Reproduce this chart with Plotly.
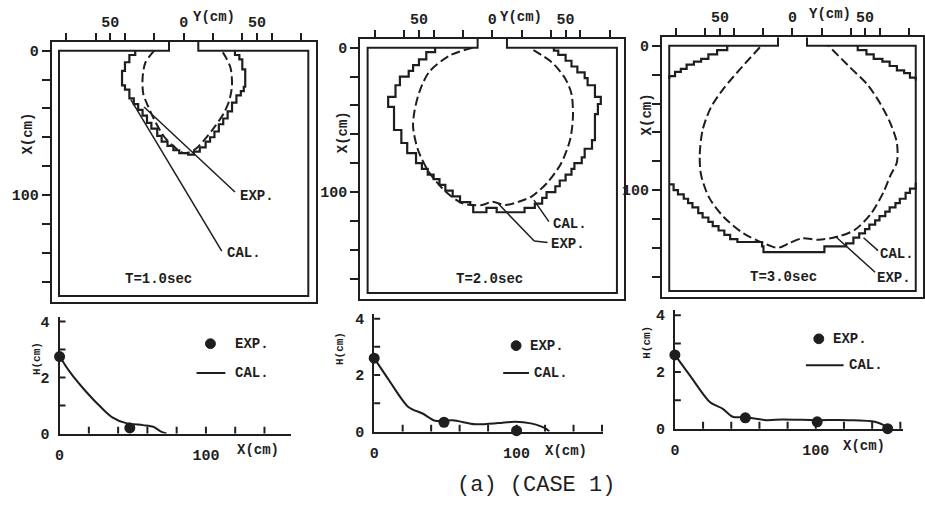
import plotly.graph_objects as go

W, H = 925, 506
INK = "#1e1e1e"
FONT = "Liberation Mono"

# ---------------- data (cm) ----------------
# Top panels: flood boundary. Y = lateral (cm), X = downstream (cm)
# CAL = staircase (grid) boundary, EXP = measured (dashed) boundary
P1_CAL_Y = [-33, -33, -37, -40, -42, -40, -37, -34, -31, -28, -25, -22, -18, -15, -11, -7, -3,
            3, 7, 11, 15, 18, 21, 24, 27, 30, 33, 36, 39, 41, 42, 40, 38, 35]
P1_CAL_X = [0, 3, 8, 14, 24, 27, 33, 37, 41, 45, 50, 54, 59, 63, 66, 69, 71,
            72, 70, 67, 63, 60, 56, 51, 47, 42, 36, 31, 28, 25, 13, 6, 3, 0]
P1_EXP_Y = [-20, -26, -28, -27.5, -24.5, -19, -13, -6, 0, 7, 14, 21, 27, 31, 33, 32, 29, 26]
P1_EXP_X = [0, 8, 19, 30, 38, 50, 60, 67, 71, 69, 62, 53, 44, 35, 24, 12, 5, 0]

P2_CAL_Y = [-39, -39, -45, -50, -54, -57, -63, -66, -71, -67, -62, -58, -52, -48, -44, -40, -36,
            -32, -27, -22, -15, -13, -4, 3, 22, 29, 34, 37, 43, 46, 50, 54, 56, 61, 63, 68, 70,
            72, 74, 70, 65, 63, 58, 54, 50, 45, 42]
P2_CAL_X = [0, 3, 8, 12, 16, 20, 26, 34, 41, 57, 66, 73, 80, 84, 88, 91, 95,
            99, 103, 107, 109, 114, 111, 114, 111, 108, 104, 100, 96, 92, 88, 84, 80, 76, 70, 64, 46,
            39, 34, 26, 21, 17, 13, 9, 5, 2, 0]
P2_EXP_Y = [-13.5, -29, -43, -49.5, -53, -54, -50.7, -43, -31.5, -20, -7, 0, 9, 18, 27, 38, 47,
            53, 55, 54, 49.5, 40.5, 27]
P2_EXP_X = [0, 5.4, 16.7, 30, 43.7, 55, 70.7, 86.5, 100, 108, 109, 106.7, 109, 106.7, 103, 93, 80,
            64, 48, 32, 21, 10, 1]

P3_CAL_TL_Y = [-45, -45, -52, -58, -63, -68, -73, -77, -81, -85]
P3_CAL_TL_X = [0, 3, 6, 9, 11, 13, 16, 18, 21, 23]
P3_CAL_TR_Y = [45, 45, 51, 56, 62, 67, 72, 77, 81, 85]
P3_CAL_TR_X = [0, 3, 6, 9, 11, 14, 17, 19, 22, 24]
P3_CAL_LO_Y = [-85, -82, -79, -75, -72, -69, -65, -62, -58, -55, -51, -47, -43, -38, -21, -20,
               22, 37, 42, 46, 50, 53, 57, 60, 64, 67, 71, 74, 78, 81, 85]
P3_CAL_LO_X = [96, 100, 103, 106, 109, 112, 116, 119, 122, 125, 128, 131, 134, 136, 139, 143,
               139, 137, 133, 130, 127, 124, 121, 118, 115, 112, 109, 106, 102, 99, 95]
P3_EXP_Y = [-22.5, -36, -47.3, -56.3, -62, -64, -63, -57.4, -47.3, -33.8, -20, -10, -2, 6.8, 18,
            31.5, 42.8, 54, 63, 67.6, 72, 72, 67.6, 60.8, 51.8, 38.3, 24.8]
P3_EXP_X = [1, 16, 29.3, 42.8, 58.4, 76.3, 89.7, 105.4, 118.8, 130, 136.7, 140, 136.7, 133.4, 134.4,
            132.2, 127.7, 116.6, 100.9, 89.7, 80.7, 67.3, 53.9, 40.5, 27, 13.6, 0]

TIMES = ["T=1.0sec", "T=2.0sec", "T=3.0sec"]

# Bottom panels: water depth H (cm) along centre line X (cm)
B1_EXP_X = [0, 48]
B1_EXP_H = [2.75, 0.2]
B1_CAL_X = [0, 7, 18, 29, 36, 45, 57, 64, 69, 73]
B1_CAL_H = [2.76, 2.2, 1.5, 0.9, 0.58, 0.38, 0.3, 0.24, 0.08, 0.0]

B2_EXP_X = [0, 49, 100]
B2_EXP_H = [2.6, 0.33, 0.03]
B2_CAL_X = [0, 10, 24, 34, 43, 55, 71, 87, 99, 110, 120, 123]
B2_CAL_H = [2.6, 1.85, 0.87, 0.64, 0.38, 0.4, 0.26, 0.3, 0.35, 0.29, 0.12, 0.0]

B3_EXP_X = [0, 50, 101, 151]
B3_EXP_H = [2.6, 0.38, 0.24, 0.0]
B3_CAL_X = [0, 11, 25, 34, 41, 50, 65, 76, 100, 123, 142, 151]
B3_CAL_H = [2.6, 1.85, 0.93, 0.7, 0.42, 0.4, 0.3, 0.32, 0.3, 0.3, 0.24, 0.05]

TOP_YTICKS = [-80, -60, -50, -40, -20, 0, 20, 40, 50, 60, 80]
TOP_YTEXT = ["", "", "50", "", "", "0", "", "", "50", "", ""]
TOP_XTICKS = [0, 20, 40, 60, 80, 100, 120, 140, 160]
TOP_XTEXT = ["0", "", "", "", "", "100", "", "", ""]
BOT_XTICKS = [0, 20, 40, 60, 80, 100, 120, 140, 160]
BOT_XTEXT = ["0", "", "", "", "", "100", "", "", ""]
BOT_HTICKS = [0, 1, 2, 3, 4]
BOT_HTEXT = ["0", "", "2", "", "4"]

# ---------------- layout geometry (px) ----------------
TOP_DOM = [((47, 313), (41, 307)), ((358, 624), (38, 304)), ((662, 925), (36, 302))]
BOT_DOM = [((55, 288), (323, 442)), ((372, 603), (320, 440)), ((675, 905), (315, 437))]
BOT_XMAX = [158, 161, 162]
BOT_HMAX = [4.15, 4.15, 4.2]
Y_RANGE = [-90, 90]
X_RANGE = [174, -6]
TANK_HALF = 85
TANK_LEN = 170
INLET_HALF = 10
XTICK_LEN = 7
HTICK_LEN = 6


def fx(a, b):
    return [a / W, b / W]


def fy(top, bottom):
    return [1 - bottom / H, 1 - top / H]


def px(x):
    return x / W


def py(y):
    return 1 - y / H


fig = go.Figure()
layout = {}
shapes = []
annos = []
tickfont = dict(family=FONT, size=15, color=INK, weight="bold")
lab_font = dict(family=FONT, size=14, color=INK, weight="bold")

cal_sets = [
    [(P1_CAL_Y, P1_CAL_X)],
    [(P2_CAL_Y, P2_CAL_X)],
    [(P3_CAL_TL_Y, P3_CAL_TL_X), (P3_CAL_TR_Y, P3_CAL_TR_X), (P3_CAL_LO_Y, P3_CAL_LO_X)],
]
exp_sets = [(P1_EXP_Y, P1_EXP_X), (P2_EXP_Y, P2_EXP_X), (P3_EXP_Y, P3_EXP_X)]

# leader lines (Y,X) and label anchors for each top panel
leaders = [
    {"EXP": ([(-27, 39), (35, 98)], (37, 101)),
     "CAL": ([(-36, 34), (26, 139)], (28, 140)),
     "T": (-17, 158)},
    {"EXP": ([(4, 108), (28.6, 134), (37.7, 135)], (38.6, 136)),
     "CAL": ([(28.4, 105.6), (38.6, 120.5)], (40, 122)),
     "T": (-2, 160)},
    {"EXP": ([(29.5, 132), (57, 157)], (57, 161)),
     "CAL": ([(49, 133), (59, 142)], (59, 144)),
     "T": (-6, 160)},
]

for i in range(3):
    n = i + 1
    xa = "x" if n == 1 else f"x{n}"
    ya = "y" if n == 1 else f"y{n}"
    (xl, xr), (yt, yb) = TOP_DOM[i]
    layout["xaxis" if n == 1 else f"xaxis{n}"] = dict(
        domain=fx(xl, xr), anchor=ya, range=Y_RANGE, side="top",
        showline=True, mirror=True, linecolor=INK, linewidth=2,
        ticks="outside", ticklen=7, tickwidth=2, tickcolor=INK,
        tickvals=TOP_YTICKS, ticktext=TOP_YTEXT, tickfont=tickfont,
        showgrid=False, zeroline=False, fixedrange=True)
    layout["yaxis" if n == 1 else f"yaxis{n}"] = dict(
        domain=fy(yt, yb), anchor=xa, range=X_RANGE,
        showline=True, mirror=True, linecolor=INK, linewidth=2,
        ticks="outside", ticklen=8, tickwidth=2, tickcolor=INK,
        tickvals=TOP_XTICKS, ticktext=TOP_XTEXT, tickfont=tickfont,
        showgrid=False, zeroline=False, fixedrange=True)
    # inner tank wall with the inlet opening
    path = (f"M {-INLET_HALF},{X_RANGE[1]} L {-INLET_HALF},0 L {-TANK_HALF},0 "
            f"L {-TANK_HALF},{TANK_LEN} L {TANK_HALF},{TANK_LEN} L {TANK_HALF},0 "
            f"L {INLET_HALF},0 L {INLET_HALF},{X_RANGE[1]}")
    shapes.append(dict(type="path", path=path, xref=xa, yref=ya,
                       line=dict(color=INK, width=2)))
    for cy, cx in cal_sets[i]:
        fig.add_trace(go.Scatter(x=cy, y=cx, xaxis=xa, yaxis=ya, mode="lines",
                                 line=dict(color=INK, width=2.2, shape="hv"),
                                 showlegend=False, hoverinfo="skip"))
    ey, ex = exp_sets[i]
    fig.add_trace(go.Scatter(x=ey, y=ex, xaxis=xa, yaxis=ya, mode="lines",
                             line=dict(color=INK, width=2, shape="spline",
                                       smoothing=0.8, dash="9px,4px"),
                             showlegend=False, hoverinfo="skip"))
    L = leaders[i]
    for key in ("EXP", "CAL"):
        pts, (lx, ly) = L[key]
        for (a, b), (c, d) in zip(pts[:-1], pts[1:]):
            shapes.append(dict(type="line", xref=xa, yref=ya, x0=a, y0=b, x1=c, y1=d,
                               line=dict(color=INK, width=1.5)))
        annos.append(dict(x=lx, y=ly, xref=xa, yref=ya, text=key + ".",
                          showarrow=False, xanchor="left", yanchor="middle", font=lab_font))
    tx, ty = L["T"]
    annos.append(dict(x=tx, y=ty, xref=xa, yref=ya, text=TIMES[i], showarrow=False,
                      xanchor="center", yanchor="middle", font=lab_font))

# axis titles for top panels
for (cx, cy) in [(187, 15), (497, 15), (808, 12)]:
    annos.append(dict(x=px(cx), y=py(cy), xref="paper", yref="paper", text="Y(cm)",
                      showarrow=False, xanchor="left", yanchor="middle", font=lab_font))
for (cx, cy) in [(23, 135), (340, 133), (647, 115)]:
    annos.append(dict(x=px(cx), y=py(cy), xref="paper", yref="paper", text="X(cm)",
                      textangle=-90, showarrow=False, xanchor="center", yanchor="middle",
                      font=lab_font))

bottom = [(B1_EXP_X, B1_EXP_H, B1_CAL_X, B1_CAL_H),
          (B2_EXP_X, B2_EXP_H, B2_CAL_X, B2_CAL_H),
          (B3_EXP_X, B3_EXP_H, B3_CAL_X, B3_CAL_H)]
legend_pos = [dict(dot=(207, 350), exp=230, line=(193, 222, 380), cal=230),
              dict(dot=(515, 352), exp=527, line=(502, 528, 380), cal=531),
              dict(dot=(820, 345), exp=832, line=(807, 845, 372), cal=848)]
htitle = [(33, 365), (337, 355), (647, 349)]
xtitle = [(255, 459), (565, 460), (866, 455)]

for i in range(3):
    n = i + 4
    xa, ya = f"x{n}", f"y{n}"
    (xl, xr), (yt, yb) = BOT_DOM[i]
    layout[f"xaxis{n}"] = dict(
        domain=fx(xl, xr), anchor=ya, range=[0, BOT_XMAX[i]],
        showline=True, linecolor=INK, linewidth=2,
        ticks="", tickvals=BOT_XTICKS, ticktext=BOT_XTEXT, tickfont=tickfont,
        ticklabelstandoff=6,
        showgrid=False, zeroline=False, fixedrange=True)
    layout[f"yaxis{n}"] = dict(
        domain=fy(yt, yb), anchor=xa, range=[0, BOT_HMAX[i]],
        showline=True, linecolor=INK, linewidth=2,
        ticks="", tickvals=BOT_HTICKS, ticktext=BOT_HTEXT, tickfont=tickfont,
        ticklabelstandoff=5,
        showgrid=False, zeroline=False, fixedrange=True)
    # inward tick marks drawn at the tick values
    for t in BOT_XTICKS[1:]:
        if t <= BOT_XMAX[i]:
            shapes.append(dict(type="line", xref=xa, yref=f"{ya} domain",
                               x0=t, x1=t, y0=0, y1=XTICK_LEN / (yb - yt),
                               line=dict(color=INK, width=2)))
    for t in BOT_HTICKS[1:]:
        shapes.append(dict(type="line", xref=f"{xa} domain", yref=ya,
                           x0=0, x1=HTICK_LEN / (xr - xl), y0=t, y1=t,
                           line=dict(color=INK, width=2)))
    ex, eh, cx, ch = bottom[i]
    fig.add_trace(go.Scatter(x=cx, y=ch, xaxis=xa, yaxis=ya, mode="lines",
                             line=dict(color=INK, width=2, shape="spline", smoothing=0.8),
                             cliponaxis=False, showlegend=False, hoverinfo="skip"))
    fig.add_trace(go.Scatter(x=ex, y=eh, xaxis=xa, yaxis=ya, mode="markers",
                             marker=dict(color=INK, size=11),
                             cliponaxis=False, showlegend=False, hoverinfo="skip"))
    lp = legend_pos[i]
    dxp, dyp = lp["dot"]
    shapes.append(dict(type="circle", xref="paper", yref="paper",
                       x0=px(dxp - 5), x1=px(dxp + 5), y0=py(dyp + 5), y1=py(dyp - 5),
                       fillcolor=INK, line=dict(color=INK, width=1)))
    annos.append(dict(x=px(lp["exp"]), y=py(dyp), xref="paper", yref="paper", text="EXP.",
                      showarrow=False, xanchor="left", yanchor="middle", font=lab_font))
    l0, l1, ly = lp["line"]
    shapes.append(dict(type="line", xref="paper", yref="paper", x0=px(l0), x1=px(l1),
                       y0=py(ly), y1=py(ly), line=dict(color=INK, width=2)))
    annos.append(dict(x=px(lp["cal"]), y=py(ly), xref="paper", yref="paper", text="CAL.",
                      showarrow=False, xanchor="left", yanchor="middle", font=lab_font))
    hx, hy = htitle[i]
    annos.append(dict(x=px(hx), y=py(hy), xref="paper", yref="paper", text="H(cm)",
                      textangle=-90, showarrow=False, xanchor="center", yanchor="middle",
                      font=dict(family=FONT, size=11, color=INK, weight="bold")))
    tx, ty = xtitle[i]
    annos.append(dict(x=px(tx), y=py(ty), xref="paper", yref="paper", text="X(cm)",
                      showarrow=False, xanchor="center", yanchor="middle", font=lab_font))

annos.append(dict(x=px(535), y=py(495), xref="paper", yref="paper", text="(a) (CASE 1)",
                  showarrow=False, xanchor="center", yanchor="middle",
                  font=dict(family=FONT, size=22, color=INK)))

fig.update_layout(width=W, height=H, margin=dict(l=0, r=0, t=0, b=0),
                  paper_bgcolor="white", plot_bgcolor="rgba(0,0,0,0)",
                  showlegend=False, shapes=shapes, annotations=annos, **layout)
fig.write_html("out.html")
